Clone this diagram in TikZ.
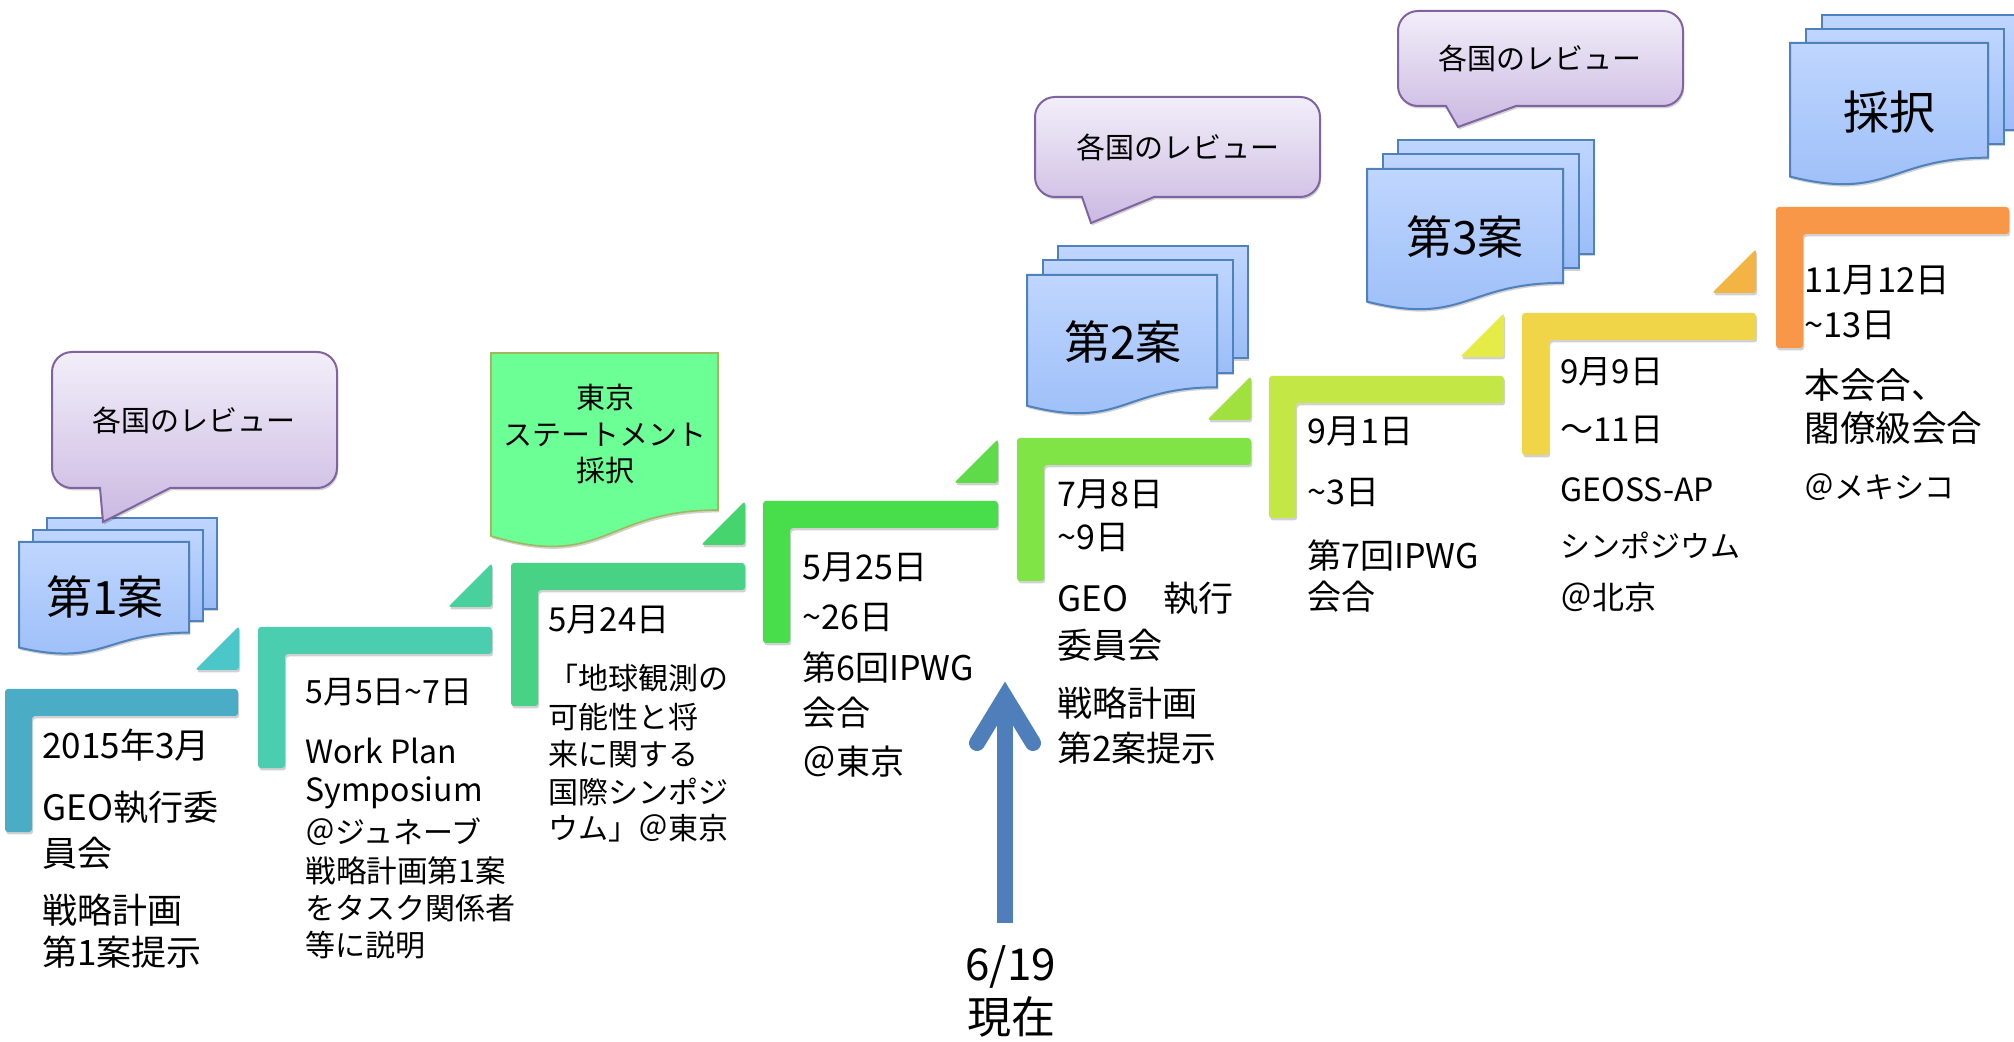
\documentclass[tikz,border=0pt]{standalone}
\usepackage{fontspec}
\setmainfont{Noto Sans CJK JP}
\usetikzlibrary{shadows}
\definecolor{bA}{HTML}{4BACC6}\definecolor{tA}{HTML}{4BC7C9}
\definecolor{bB}{HTML}{4BCDB0}\definecolor{tB}{HTML}{48D19C}
\definecolor{bC}{HTML}{48D285}\definecolor{tC}{HTML}{46D46E}
\definecolor{bD}{HTML}{47DD4B}\definecolor{tD}{HTML}{5FDA48}
\definecolor{bE}{HTML}{80E346}\definecolor{tE}{HTML}{A0E140}
\definecolor{bF}{HTML}{C3E846}\definecolor{tF}{HTML}{E5EB47}
\definecolor{bG}{HTML}{EFD547}\definecolor{tG}{HTML}{F3B443}
\definecolor{bH}{HTML}{F79747}
\definecolor{doctop}{HTML}{BFD6FE}\definecolor{docbot}{HTML}{9BBDF8}
\definecolor{docline}{HTML}{4F81BD}
\definecolor{caltop}{HTML}{F2EEF9}\definecolor{calbot}{HTML}{CBB9E2}
\definecolor{calline}{HTML}{8064A2}
\definecolor{greenfill}{HTML}{6BFF96}\definecolor{greenline}{HTML}{A0B95A}
\definecolor{arrowblue}{HTML}{4E7FBB}
\newcommand\fsz[1]{\fontsize{#1}{#1}\selectfont}
\tikzset{
  softshadow/.style={drop shadow={shadow xshift=0.6pt,shadow yshift=-1.2pt,opacity=0.18,fill=black}},
  docpage/.style={draw=docline,line width=1pt,top color=doctop,bottom color=docbot,softshadow},
  callbox/.style={draw=calline,line width=1pt,top color=caltop,bottom color=calbot,softshadow},
  greendoc/.style={draw=greenline,line width=0.8pt,fill=greenfill,softshadow},
  barshape/.style={rounded corners=1.5pt,softshadow},
  txt/.style={anchor=west,inner sep=0pt,text=black},
  ctxt/.style={anchor=center,inner sep=0pt,text=black},
  arrowline/.style={draw=arrowblue,line width=8pt}
}
% x0 y0 w H dx dy
\newcommand\multidoc[6]{%
  \path[docpage] ({#1+2*#5},{#2-2*#6}) rectangle ({#1+#3+2*#5},{#2+0.802*#4-2*#6});
  \path[docpage] ({#1+#5},{#2-#6}) rectangle ({#1+#3+#5},{#2+0.802*#4-#6});
  \path[docpage] (#1,#2) -- ({#1+#3},#2) -- ({#1+#3},{#2+0.802*#4})
     .. controls ({#1+0.5*#3},{#2+0.802*#4}) and ({#1+0.5*#3},{#2+1.1075*#4}) .. (#1,{#2+0.934*#4}) -- cycle;
}
% x1 y1 x2 y2 a b tipx tipy
\newcommand\speech[8]{%
  \path[callbox] ({#1+20},#2) -- ({#3-20},#2) arc[start angle=90,end angle=0,radius=10pt]
    -- (#3,{#4-20}) arc[start angle=0,end angle=-90,radius=10pt]
    -- (#6,#4) -- (#7,#8) -- (#5,#4)
    -- ({#1+20},#4) arc[start angle=-90,end angle=-180,radius=10pt]
    -- (#1,{#2+20}) arc[start angle=180,end angle=90,radius=10pt] -- cycle;
}
% x0 y0 xr yb color
\newcommand\bracketL[5]{%
  \path[barshape,fill=#5] (#1,#2) -- (#3,#2) -- (#3,{#2+27}) -- ({#1+27},{#2+27}) -- ({#1+27},#4) -- (#1,#4) -- cycle;
}
% xr yb color
\newcommand\wedgeT[3]{%
  \path[barshape,fill=#3] ({#1-44},#2) -- (#1,{#2-44}) -- (#1,#2) -- cycle;
}
\begin{document}
\begin{tikzpicture}[x=0.5pt,y=-0.5pt]
\useasboundingbox (0,0) rectangle (2014,1042);
\fill[white] (0,0) rectangle (2014,1042);

% timeline steps
\bracketL{5}{689}{238}{832}{bA}
\wedgeT{239}{670}{tA}
\bracketL{258}{627}{492}{768}{bB}
\wedgeT{492}{607}{tB}
\bracketL{511}{563}{745}{706}{bC}
\wedgeT{745}{545}{tC}
\bracketL{763}{501}{998}{643}{bD}
\wedgeT{998}{483}{tD}
\bracketL{1017}{438}{1251}{581}{bE}
\wedgeT{1251}{420}{tE}
\bracketL{1269}{376}{1504}{518}{bF}
\wedgeT{1504}{357}{tF}
\bracketL{1522}{313}{1756}{455}{bG}
\wedgeT{1756}{293}{tG}
\bracketL{1776}{207}{2009}{348}{bH}

% documents
\multidoc{19}{542}{170}{113}{14}{12}
\node[ctxt,font=\fsz{23pt}] (d1) at (105,597) {第1案};
\multidoc{1027}{275}{190}{140}{15.5}{14.5}
\node[ctxt,font=\fsz{23pt}] (d2) at (1123,342) {第2案};
\multidoc{1367}{169}{196}{142}{15.5}{14.5}
\node[ctxt,font=\fsz{23pt}] (d3) at (1465,237) {第3案};
\multidoc{1790}{43}{198}{143}{16}{14}
\node[ctxt,font=\fsz{23pt}] (d4) at (1889,112) {採択};

% Tokyo statement
\path[greendoc] (491,353) -- (718,353) -- (718,510)
   .. controls (604.5,510) and (604.5,570) .. (491,536) -- cycle;
\node[ctxt,align=center,font=\fontsize{14.5pt}{18.25pt}\selectfont] (gs) at (605,434) {東京\\ステートメント\\採択};

% callouts
\speech{52}{352}{337}{488}{100}{170}{103}{522}
\node[ctxt,font=\fsz{14.5pt}] (c1) at (194,420) {各国のレビュー};
\speech{1035}{97}{1320}{197}{1082}{1154}{1091}{223}
\node[ctxt,font=\fsz{14.5pt}] (c2) at (1178,147) {各国のレビュー};
\speech{1398}{11}{1683}{106}{1446}{1516}{1458}{127}
\node[ctxt,font=\fsz{14.5pt}] (c3) at (1540,58) {各国のレビュー};

% block 1
\node[txt,font=\fsz{17.5pt}] (t1a) at (42,745) {2015年3月};
\node[txt,font=\fsz{17.5pt}] (t1b) at (42,807) {GEO執行委};
\node[txt,font=\fsz{17.5pt}] (t1c) at (42,853) {員会};
\node[txt,font=\fsz{17.5pt}] (t1d) at (42,910) {戦略計画};
\node[txt,font=\fsz{17.5pt}] (t1e) at (42,952) {第1案提示};
% block 2
\node[txt,font=\fsz{16pt}] (t2a) at (305,692) {5月5日\textasciitilde 7日};
\node[txt,font=\fsz{16pt}] (t2b) at (305,751) {Work Plan};
\node[txt,font=\fsz{16pt}] (t2c) at (305,793) {Symposium};
\node[txt,font=\fsz{15pt}] (t2d) at (305,832) {＠ジュネーブ};
\node[txt,font=\fsz{15.3pt}] (t2e) at (305,871) {戦略計画第1案};
\node[txt,font=\fsz{15pt}] (t2f) at (305,908) {をタスク関係者};
\node[txt,font=\fsz{15pt}] (t2g) at (305,945) {等に説明};
% block 3
\node[txt,font=\fsz{16.5pt}] (t3a) at (548,620) {5月24日};
\node[txt,font=\fsz{15pt}] (t3b) at (548,678) {「地球観測の};
\node[txt,font=\fsz{15pt}] (t3c) at (548,717) {可能性と将};
\node[txt,font=\fsz{15pt}] (t3d) at (548,754) {来に関する};
\node[txt,font=\fsz{15pt}] (t3e) at (548,792) {国際シンポジ};
\node[txt,font=\fsz{15pt}] (t3f) at (548,828) {ウム」＠東京};
% block 4
\node[txt,font=\fsz{17pt}] (t4a) at (802,568) {5月25日};
\node[txt,font=\fsz{17pt}] (t4b) at (802,618) {\textasciitilde 26日};
\node[txt,font=\fsz{17pt}] (t4c) at (802,667) {第6回IPWG};
\node[txt,font=\fsz{17pt}] (t4d) at (802,713) {会合};
\node[txt,font=\fsz{17pt}] (t4e) at (802,762) {＠東京};
% block 5
\node[txt,font=\fsz{17pt}] (t5a) at (1057,495) {7月8日};
\node[txt,font=\fsz{17pt}] (t5b) at (1057,538) {\textasciitilde 9日};
\node[txt,font=\fsz{17.5pt}] (t5c) at (1057,598) {GEO　執行};
\node[txt,font=\fsz{17.5pt}] (t5d) at (1057,645) {委員会};
\node[txt,font=\fsz{17.5pt}] (t5e) at (1057,703) {戦略計画};
\node[txt,font=\fsz{17.5pt}] (t5f) at (1057,748) {第2案提示};
% block 6
\node[txt,font=\fsz{17pt}] (t6a) at (1307,432) {9月1日};
\node[txt,font=\fsz{17pt}] (t6b) at (1307,493) {\textasciitilde 3日};
\node[txt,font=\fsz{17pt}] (t6c) at (1307,555) {第7回IPWG};
\node[txt,font=\fsz{17pt}] (t6d) at (1307,597) {会合};
% block 7
\node[txt,font=\fsz{16.5pt}] (t7a) at (1560,372) {9月9日};
\node[txt,font=\fsz{16.5pt}] (t7b) at (1560,430) {～11日};
\node[txt,font=\fsz{16pt}] (t7c) at (1560,490) {GEOSS-AP};
\node[txt,font=\fsz{15pt}] (t7d) at (1560,545) {シンポジウム};
\node[txt,font=\fsz{16pt}] (t7e) at (1560,597) {＠北京};
% block 8
\node[txt,font=\fsz{17.2pt}] (t8a) at (1804,280) {11月12日};
\node[txt,font=\fsz{17.2pt}] (t8b) at (1804,325) {\textasciitilde 13日};
\node[txt,font=\fsz{17.8pt}] (t8c) at (1804,385) {本会合、};
\node[txt,font=\fsz{17.8pt}] (t8d) at (1804,428) {閣僚級会合};
\node[txt,font=\fsz{15pt}] (t8e) at (1804,487) {＠メキシコ};

% current date arrow
\coordinate (arrbase) at (1005,923);
\coordinate (arrneck) at (1005,702);
\coordinate (arrL) at (977,743);
\coordinate (arrtip) at (1005,697);
\coordinate (arrR) at (1033,743);
\draw[arrowline] (arrbase) -- (arrneck);
\draw[arrowline,line cap=round,line join=miter] (arrL) -- (arrtip) -- (arrR);
\node[txt,font=\fsz{22pt}] (now1) at (965,967) {6/19};
\node[txt,font=\fsz{22pt}] (now2) at (967,1017) {現在};
\end{tikzpicture}
\end{document}
